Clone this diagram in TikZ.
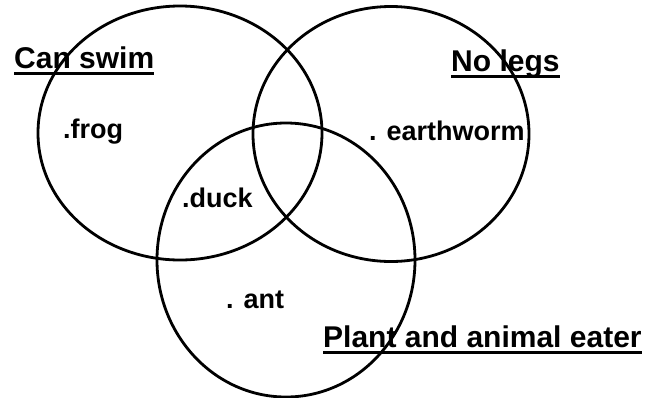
\documentclass[tikz,border=0pt]{standalone}
\usepackage{fontspec}
\setmainfont{Liberation Sans}
\usetikzlibrary{shapes.geometric}
\newcommand{\titleline}[1]{\setbox0\hbox{#1}\rlap{\rule[-6.5pt]{\wd0}{2.2pt}}\box0}
\tikzset{
  vennset/.style={ellipse, draw=black, line width=2.8pt, inner sep=0pt},
  settitle/.style={anchor=base west, inner sep=0pt, font=\fontsize{30}{36}\selectfont\bfseries},
  setitem/.style={anchor=base west, inner sep=0pt, font=\fontsize{27}{32}\selectfont\bfseries}
}

\begin{document}
\begin{tikzpicture}[x=1pt, y=-1pt]
  \useasboundingbox (0,0) rectangle (648,397);
  \node[vennset, minimum width=284pt, minimum height=254pt] (swim) at (180,133) {};
  \node[vennset, minimum width=276pt, minimum height=255pt] (legs) at (391,134) {};
  \node[vennset, minimum width=258pt, minimum height=274pt] (eater) at (286,260) {};

  \node[settitle] (swimtitle) at (14,68) {\titleline{Can swim}};
  \node[settitle] (legstitle) at (451,71) {\titleline{No legs}};
  \node[settitle] (eatertitle) at (323,347) {\titleline{Plant and animal eater}};

  \node[setitem] (frog) at (63,138) {.frog};
  \node[setitem] (duck) at (182,207) {.duck};
  \node[setitem] (worm) at (369,140) {. earthworm};
  \node[setitem] (ant) at (226,308) {. ant};
\end{tikzpicture}
\end{document}
